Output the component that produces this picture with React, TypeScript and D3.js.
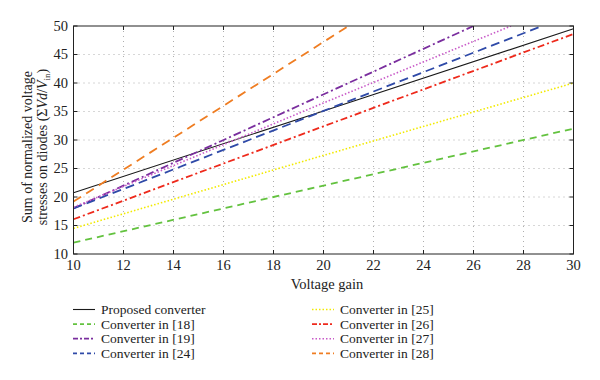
import React from "react";
import * as d3 from "d3";

const xTicks = [10, 12, 14, 16, 18, 20, 22, 24, 26, 28, 30];
const yTicks = [10, 15, 20, 25, 30, 35, 40, 45, 50];

const proposedX = [10, 20, 30];
const proposedY = [20.75, 35.1, 49.5];
const c18X = [10, 20, 30];
const c18Y = [12, 22, 32];
const c19X = [10, 18, 26];
const c19Y = [18, 34, 50];
const c24X = [10, 20, 28.75];
const c24Y = [18, 35.1, 50];
const c25X = [10, 20, 30];
const c25Y = [14.5, 27.3, 40];
const c26X = [10, 20, 30];
const c26Y = [16.1, 32.4, 48.6];
const c27X = [10, 20, 27.5];
const c27Y = [18.2, 36.5, 50];
const c28X = [10, 16, 21];
const c28Y = [19.2, 36, 50];

const seriesNames = [
  "Proposed converter",
  "Converter in [18]",
  "Converter in [19]",
  "Converter in [24]",
  "Converter in [25]",
  "Converter in [26]",
  "Converter in [27]",
  "Converter in [28]",
];

const series = [
  { name: seriesNames[0], xs: proposedX, ys: proposedY, color: "#1a1a1a", dash: "", w: 1.1 },
  { name: seriesNames[1], xs: c18X, ys: c18Y, color: "#63c23f", dash: "7,5", w: 1.8 },
  { name: seriesNames[2], xs: c19X, ys: c19Y, color: "#7a2e9e", dash: "8,3,2,3", w: 1.8 },
  { name: seriesNames[3], xs: c24X, ys: c24Y, color: "#2f4aa8", dash: "9,5", w: 1.8 },
  { name: seriesNames[4], xs: c25X, ys: c25Y, color: "#f2ea00", dash: "1.5,2", w: 1.6 },
  { name: seriesNames[5], xs: c26X, ys: c26Y, color: "#ee2a1c", dash: "7,3,2,3", w: 1.8 },
  { name: seriesNames[6], xs: c27X, ys: c27Y, color: "#c85ac8", dash: "1.5,2", w: 1.6 },
  { name: seriesNames[7], xs: c28X, ys: c28Y, color: "#ef7d22", dash: "9,6", w: 1.8 },
];

const W = 600;
const H = 380;
const L = 73.5;
const R = 573.5;
const T = 26;
const B = 254;
const font = "'Liberation Serif', 'Times New Roman', serif";

export default function App() {
  const x = d3.scaleLinear().domain([10, 30]).range([L, R]);
  const y = d3.scaleLinear().domain([10, 50]).range([B, T]);
  const line = d3
    .line<[number, number]>()
    .x((d) => x(d[0]))
    .y((d) => y(d[1]));

  const legendRows = [0, 1, 2, 3];
  return (
    <svg
      width={W}
      height={H}
      style={{ position: "absolute", left: 0, top: 0, background: "#fff" }}
      fontFamily={font}
    >
      <defs>
        <clipPath id="plot">
          <rect x={L} y={T} width={R - L} height={B - T} />
        </clipPath>
      </defs>
      {xTicks.slice(1, -1).map((t) => (
        <line key={"gx" + t} x1={x(t)} x2={x(t)} y1={T} y2={B} stroke="#999" strokeWidth={0.8} strokeDasharray="1,4" />
      ))}
      {yTicks.slice(1, -1).map((t) => (
        <line key={"gy" + t} x1={L} x2={R} y1={y(t)} y2={y(t)} stroke="#999" strokeWidth={0.8} strokeDasharray="1,4" />
      ))}
      <g clipPath="url(#plot)">
        {series.map((s) => (
          <path
            key={s.name}
            d={line(s.xs.map((v, i) => [v, s.ys[i]] as [number, number])) || ""}
            fill="none"
            stroke={s.color}
            strokeWidth={s.w}
            strokeDasharray={s.dash}
          />
        ))}
      </g>
      <rect x={L} y={T} width={R - L} height={B - T} fill="none" stroke="#222" strokeWidth={1} />
      {xTicks.map((t) => (
        <g key={"tx" + t}>
          <line x1={x(t)} x2={x(t)} y1={B} y2={B - 4} stroke="#222" />
          <line x1={x(t)} x2={x(t)} y1={T} y2={T + 4} stroke="#222" />
          <text x={x(t)} y={270} textAnchor="middle" fontSize={14.5} fill="#222">
            {t}
          </text>
        </g>
      ))}
      {yTicks.map((t) => (
        <g key={"ty" + t}>
          <line x1={L} x2={L + 4} y1={y(t)} y2={y(t)} stroke="#222" />
          <line x1={R} x2={R - 4} y1={y(t)} y2={y(t)} stroke="#222" />
          <text x={68} y={y(t) + 4.5} textAnchor="end" fontSize={14.5} fill="#222">
            {t}
          </text>
        </g>
      ))}
      <text x={327} y={289} textAnchor="middle" fontSize={14.5} fill="#222">
        Voltage gain
      </text>
      <text transform="translate(32,147) rotate(-90)" textAnchor="middle" fontSize={14} fill="#222">
        Sum of normalized voltage
      </text>
      <text transform="translate(46.5,147) rotate(-90)" textAnchor="middle" fontSize={14} fill="#222">
        stresses on diodes (Σ<tspan fontStyle="italic">Vd</tspan>/<tspan fontStyle="italic">V</tspan>
        <tspan fontSize={9} dy={3}>in</tspan>
        <tspan dy={-3}>)</tspan>
      </text>
      {series.map((s, i) => {
        const col = Math.floor(i / 4);
        const row = legendRows[i % 4];
        const lx = col === 0 ? 73 : 312;
        const ly = 309.5 + row * 14.6;
        const ld = s.dash ? (s.dash.split(",").length > 2 ? "5,2,2,2" : s.dash.startsWith("1.5") ? "1.5,2" : "4,3") : "";
        return (
          <g key={"lg" + s.name}>
            <line x1={lx} x2={lx + 22} y1={ly} y2={ly} stroke={s.color} strokeWidth={s.w} strokeDasharray={ld} />
            <text x={lx + 28} y={ly + 4.5} fontSize={13.5} fill="#222">
              {s.name}
            </text>
          </g>
        );
      })}
    </svg>
  );
}
